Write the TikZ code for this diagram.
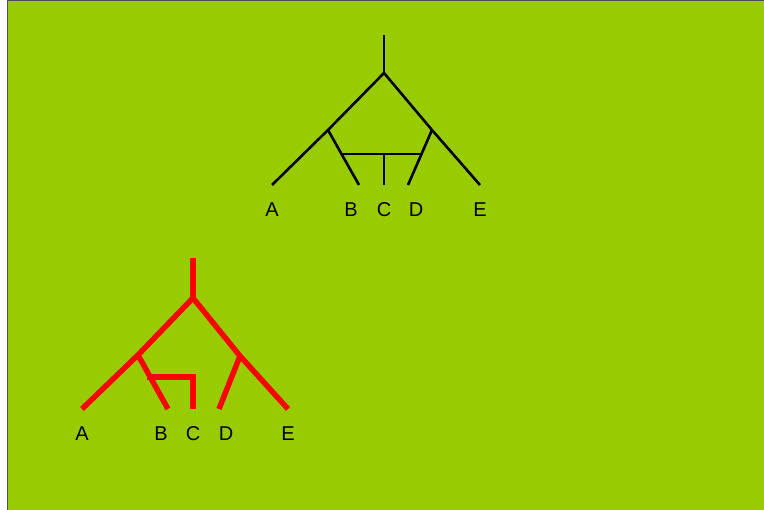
\documentclass[tikz,border=0pt]{standalone}
\usepackage{fontspec}
\setmainfont{Liberation Sans}
\usepackage{tikz}
\usetikzlibrary{positioning}
\definecolor{leafgreen}{HTML}{99CC00}
\definecolor{framegray}{HTML}{505050}

\begin{document}
\begin{tikzpicture}[
    x=1pt, y=-1pt,
    font=\fontsize{20}{24}\selectfont,
    blacktree/.style={
        draw=black,
        line width=2.6pt
    },
    redtree/.style={
        draw=red,
        line width=5.5pt
    },
    taxon/.style={
        inner sep=0pt,
        anchor=center
    }
]
\useasboundingbox (0,0) rectangle (764,510);
% Background
\fill[white] (0,0) rectangle (764,510);
\filldraw[fill=leafgreen, draw=framegray, line width=1pt] (7.5,1) rectangle (780,530);

% Upper tree (black)
\coordinate (top) at (384,35);
\coordinate (root) at (384,73);
\coordinate (left) at (328,130);
\coordinate (right) at (432,130);
\coordinate (barl) at (342,154);
\coordinate (barr) at (422,154);
\coordinate (barc) at (384,154);
\coordinate (lA) at (272,185);
\coordinate (lB) at (359,185);
\coordinate (lC) at (384,185);
\coordinate (lD) at (408,185);
\coordinate (lE) at (480,185);
\draw[blacktree] (top) -- (root);
\draw[blacktree] (lA) -- (left) -- (root) -- (right) -- (lE);
\draw[blacktree] (left) -- (lB);
\draw[blacktree] (right) -- (lD);
\draw[blacktree] (barl) -- (barr);
\draw[blacktree] (barc) -- (lC);
% Upper labels
\foreach \name/\xpos in {A/272, B/351, C/384, D/416, E/480} {
    \node[taxon] (t\name) at (\xpos,210) {\name};
}

% Lower tree (red)
\coordinate (rtop) at (193,258);
\coordinate (rroot) at (193,298);
\coordinate (rleft) at (138,355);
\coordinate (rright) at (240,356);
\coordinate (rbarl) at (147,377);
\coordinate (rbarr) at (193,377);
\coordinate (rA) at (82,409);
\coordinate (rB) at (168,409);
\coordinate (rC) at (193,409);
\coordinate (rD) at (219,409);
\coordinate (rE) at (288,409);
\draw[redtree] (rtop) -- (rroot);
\draw[redtree] (rA) -- (rleft) -- (rroot) -- (rright) -- (rE);
\draw[redtree] (rleft) -- (rB);
\draw[redtree] (rright) -- (rD);
\draw[redtree] (rbarl) -- (rbarr) -- (rC);
% Lower labels
\foreach \name/\xpos in {A/82, B/161, C/193, D/226, E/288} {
    \node[taxon] (s\name) at (\xpos,434) {\name};
}
\end{tikzpicture}
\end{document}
